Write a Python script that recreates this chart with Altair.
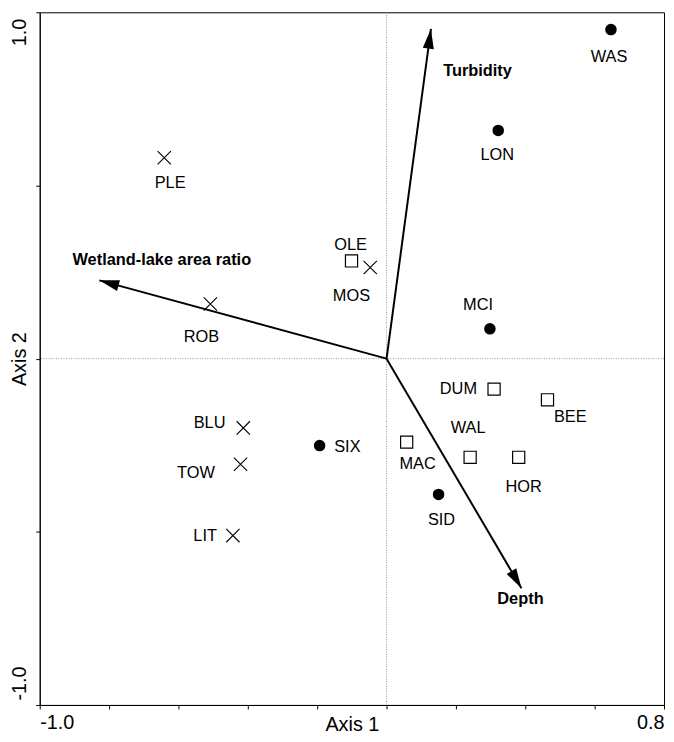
import math
import altair as alt
import pandas as pd

# site scores on CCA axes 1 and 2, grouped by marker
circle_sites = ["WAS", "LON", "MCI", "SIX", "SID"]
circle_x = [0.647, 0.322, 0.298, -0.193, 0.150]
circle_y = [0.950, 0.659, 0.086, -0.251, -0.392]

square_sites = ["OLE", "DUM", "BEE", "MAC", "WAL", "HOR"]
square_x = [-0.101, 0.310, 0.464, 0.058, 0.241, 0.381]
square_y = [0.282, -0.088, -0.119, -0.241, -0.285, -0.285]

cross_sites = ["PLE", "MOS", "ROB", "BLU", "TOW", "LIT"]
cross_x = [-0.641, -0.047, -0.508, -0.413, -0.421, -0.443]
cross_y = [0.580, 0.263, 0.158, -0.200, -0.305, -0.511]

# environmental arrows
env_names = ["Turbidity", "Wetland-lake area ratio", "Depth"]
env_x = [0.128, -0.828, 0.389]
env_y = [0.952, 0.226, -0.663]

x_ticks = [-1.0, -0.8, -0.6, -0.4, -0.2, 0.0, 0.2, 0.4, 0.6, 0.8]
y_ticks = [-1.0, -0.5, 0.0, 0.5, 1.0]

# label placement, pixels from the marker (dx right, dy down)
label_offsets = {
    "WAS": (-2, 28), "LON": (-1, 25), "MCI": (-12, -24), "SIX": (28, 1),
    "SID": (3, 26), "OLE": (-1, -16), "DUM": (-36, 0), "BEE": (23, 17),
    "MAC": (11, 22), "WAL": (-2, -30), "HOR": (5, 30), "PLE": (6, 26),
    "MOS": (-19, 29), "ROB": (-9, 33), "BLU": (-34, -5), "TOW": (-45, 9),
    "LIT": (-28, 0),
    "Turbidity": (47, 43), "Wetland-lake area ratio": (63, -21), "Depth": (-1, 11),
}

W, H = 630, 699
kx = W / 1.8
ky = H / 2.0
FONT = "Liberation Sans"


def frame(names, xs, ys):
    df = pd.DataFrame({"name": names, "x": xs, "y": ys})
    df["lx"] = [x + label_offsets[n][0] / kx for n, x in zip(names, xs)]
    df["ly"] = [y - label_offsets[n][1] / ky for n, y in zip(names, ys)]
    return df


circles = frame(circle_sites, circle_x, circle_y)
squares = frame(square_sites, square_x, square_y)
crosses = frame(cross_sites, cross_x, cross_y)
sites = pd.concat([circles, squares, crosses])

arrows = frame(env_names, env_x, env_y)
arrows["x0"] = 0.0
arrows["y0"] = 0.0
arrows["angle"] = [(math.degrees(math.atan2(x * kx, y * ky)) + 360) % 360
                   for x, y in zip(env_x, env_y)]

xs = alt.Scale(domain=[-1.0, 0.8], nice=False, zero=False)
ys = alt.Scale(domain=[-1.0, 1.0], nice=False, zero=False)

x_axis = alt.Axis(
    values=x_ticks, title="Axis 1", grid=False, tickSize=4,
    labelExpr="datum.value < -0.9 ? '-1.0' : datum.value > 0.7 ? '0.8' : ''",
    labelFlush=True, labelFontSize=20, labelPadding=4, labelFont=FONT,
    titleFontSize=20, titleFontWeight="normal", titleFont=FONT,
    titleBaseline="top", titleY=10,
)
y_axis = alt.Axis(
    values=y_ticks, title="Axis 2", grid=False, tickSize=4,
    labelExpr="datum.value > 0.9 ? '1.0' : datum.value < -0.9 ? '-1.0' : ''",
    labelAngle=270, labelFontSize=20, labelPadding=6, labelFont=FONT,
    labelAlign={"condition": [{"test": "datum.value > 0.9", "value": "right"},
                              {"test": "datum.value < -0.9", "value": "left"}],
                "value": "center"},
    labelOffset={"condition": {"test": "datum.value > 0", "value": 6}, "value": -5},
    labelBaseline="bottom",
    titleFontSize=20, titleFontWeight="normal", titleFont=FONT,
    titleAngle=270, titleBaseline="bottom", titleX=-10, titleY=H / 2,
)

base = alt.Chart(sites)

zero_x = alt.Chart(pd.DataFrame({"v": [0.0]})).mark_rule(
    color="#777", strokeWidth=0.8, strokeDash=[1, 1.5]
).encode(x=alt.X("v:Q", scale=xs, axis=x_axis))
zero_y = alt.Chart(pd.DataFrame({"v": [0.0]})).mark_rule(
    color="#777", strokeWidth=0.8, strokeDash=[1, 1.5]
).encode(y=alt.Y("v:Q", scale=ys, axis=y_axis))

arrow_lines = alt.Chart(arrows).mark_rule(color="black", strokeWidth=2).encode(
    x=alt.X("x0:Q", scale=xs), y=alt.Y("y0:Q", scale=ys), x2="x:Q", y2="y:Q"
)
arrow_heads = alt.Chart(arrows).mark_point(
    shape="M0,0L0.28,1L-0.28,1Z", size=1600, filled=True, color="black", opacity=1
).encode(
    x=alt.X("x:Q", scale=xs), y=alt.Y("y:Q", scale=ys),
    angle=alt.Angle("angle:Q", scale=None),
)
arrow_text = alt.Chart(arrows).mark_text(
    font=FONT, fontSize=16.5, fontWeight="bold", color="black", baseline="middle"
).encode(x=alt.X("lx:Q", scale=xs), y=alt.Y("ly:Q", scale=ys), text="name:N")

circle_pts = alt.Chart(circles).mark_circle(size=135, color="black", opacity=1).encode(
    x=alt.X("x:Q", scale=xs), y=alt.Y("y:Q", scale=ys)
)
square_pts = alt.Chart(squares).mark_point(
    shape="square", size=150, filled=False, color="black", strokeWidth=1.2, opacity=1
).encode(x=alt.X("x:Q", scale=xs), y=alt.Y("y:Q", scale=ys))
cross_pts = alt.Chart(crosses).mark_point(
    shape="M-1,-1L1,1M1,-1L-1,1", size=180, filled=False, color="black",
    strokeWidth=1.1, opacity=1
).encode(x=alt.X("x:Q", scale=xs), y=alt.Y("y:Q", scale=ys))

site_text = base.mark_text(
    font=FONT, fontSize=16.5, color="black", baseline="middle"
).encode(x=alt.X("lx:Q", scale=xs), y=alt.Y("ly:Q", scale=ys), text="name:N")

chart = alt.layer(
    zero_x, zero_y, arrow_lines, arrow_heads, arrow_text,
    circle_pts, square_pts, cross_pts, site_text,
).properties(
    width=W, height=H,
    padding={"left": 32, "top": 1, "right": 2, "bottom": 30},
    autosize=alt.AutoSizeParams(type="none"),
    background="white",
).configure_view(
    stroke="black", strokeWidth=1
).configure_axis(
    domainColor="black", tickColor="black", labelColor="black", titleColor="black",
    domainWidth=1, tickWidth=1,
)

chart.save("out.html", embed_options={"renderer": "svg", "actions": False})
